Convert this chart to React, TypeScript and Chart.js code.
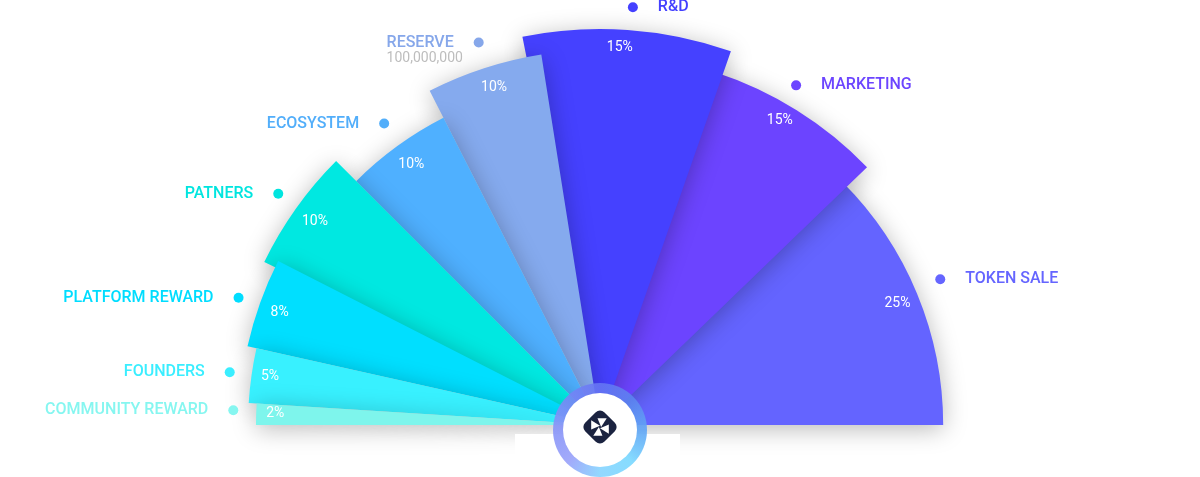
import React, { useEffect, useRef } from "react";
import { Chart, registerables } from "chart.js";

Chart.register(...registerables);

const categories = [
  "COMMUNITY REWARD",
  "FOUNDERS",
  "PLATFORM REWARD",
  "PATNERS",
  "ECOSYSTEM",
  "RESERVE",
  "R&D",
  "MARKETING",
  "TOKEN SALE",
];
const shares = [2, 5, 8, 10, 10, 10, 15, 15, 25];
const subLabels = ["", "", "", "", "", "100,000,000", "", "", ""];

// style: relative reach of each slice (fraction of the chart radius)
const sliceReach = [0.86, 0.88, 0.903, 0.933, 0.862, 0.938, 0.99, 0.928, 0.858];
// style: how far each slice tucks under its neighbours (degrees)
const tuckStartDeg = [0, 0, 0, 1.1, 0, 0, 2.3, 0, 0];
const tuckEndDeg = [0, 0, 0, 0, 0, 0, 1.3, 1.0, 0];
// style: label placement tweaks
const labelAngleNudgeDeg = [-0.5, 0, 0.4, 0.3, -0.4, -0.4, 0, 1.5, 0.7];
const dotGap = [23, 22, 22, 23, 26, 26, 23, 21, 27];
const pctAngleNudgeDeg = [-0.3, -0.2, 0.4, 0.5, -0.1, -0.6, 1.5, 0.9, -0.3];
const pctInset = [19, 18.5, 21.5, 23, 23, 21, 17.5, 18, 22];

const sliceColors = [
  "#7EF5EC",
  "#38F1FF",
  "#00DFFF",
  "#00E8E1",
  "#4FB0FF",
  "#85AAEE",
  "#4541FF",
  "#6C44FF",
  "#6464FF",
];
const labelColors = [
  "#86F6F0",
  "#3AEEFF",
  "#00DDFF",
  "#00E5DF",
  "#52AEFA",
  "#86A7EA",
  "#4440FF",
  "#6C45FF",
  "#6565FF",
];

const FONT = "Roboto, 'Noto Sans', sans-serif";
const DEG = Math.PI / 180;

const fanPlugin = {
  id: "fanPlugin",
  afterDatasetUpdate(chart: any, args: any) {
    const meta = chart.getDatasetMeta(args.index);
    const base = (meta.controller as any).outerRadius;
    meta.data.forEach((arc: any, i: number) => {
      arc.$mid = (arc.startAngle + arc.endAngle) / 2;
      arc.outerRadius = base * sliceReach[i];
      arc.innerRadius = 0;
      arc.startAngle -= tuckStartDeg[i] * DEG;
      arc.endAngle += tuckEndDeg[i] * DEG;
      arc.circumference = arc.endAngle - arc.startAngle;
    });
  },
  beforeDatasetDraw(chart: any, args: any) {
    const meta = chart.getDatasetMeta(args.index);
    const ctx = chart.ctx;
    for (let i = meta.data.length - 1; i >= 0; i--) {
      ctx.save();
      ctx.shadowColor = "rgba(0,0,0,0.28)";
      ctx.shadowBlur = 24;
      ctx.shadowOffsetX = 0;
      ctx.shadowOffsetY = 4;
      meta.data[i].draw(ctx);
      ctx.restore();
    }
    return false;
  },
  afterDatasetsDraw(chart: any) {
    const meta = chart.getDatasetMeta(0);
    const ctx = chart.ctx as CanvasRenderingContext2D;
    const arcs = meta.data as any[];
    if (!arcs.length) return;
    const cx = arcs[0].x;
    const cy = arcs[0].y;

    arcs.forEach((arc, i) => {
      const mid = arc.$mid;
      const r = arc.outerRadius;
      const pa = mid - pctAngleNudgeDeg[i] * DEG;
      const px = cx + Math.cos(pa) * (r - pctInset[i]);
      const py = cy + Math.sin(pa) * (r - pctInset[i]);
      ctx.save();
      ctx.fillStyle = "#FFFFFF";
      ctx.font = `14px ${FONT}`;
      ctx.textAlign = "center";
      ctx.textBaseline = "middle";
      ctx.fillText(shares[i] + "%", px, py);

      const la = mid - labelAngleNudgeDeg[i] * DEG;
      const dx = cx + Math.cos(la) * (r + dotGap[i]);
      const dy = cy + Math.sin(la) * (r + dotGap[i]);
      ctx.beginPath();
      ctx.arc(dx, dy, 5, 0, Math.PI * 2);
      ctx.fillStyle = labelColors[i];
      ctx.fill();

      const right = Math.cos(la) > 0;
      ctx.font = `500 16px ${FONT}`;
      const w = ctx.measureText(categories[i]).width;
      ctx.textAlign = right ? "left" : "right";
      ctx.fillStyle = labelColors[i];
      const tx = right ? dx + 25 : dx - 25;
      ctx.fillText(categories[i], tx, dy);
      if (subLabels[i]) {
        ctx.font = `14px ${FONT}`;
        ctx.fillStyle = "#BDBDBD";
        ctx.textAlign = "left";
        const startX = right ? tx : tx - w;
        ctx.fillText(subLabels[i], startX, dy + 16);
      }
      ctx.restore();
    });

    // white strip under the center
    ctx.save();
    ctx.fillStyle = "#FFFFFF";
    ctx.fillRect(cx - 85, cy + 9, 165, chart.height - cy);
    ctx.restore();

    // center ring
    const rx = cx;
    const ry = cy + 5;
    ctx.save();
    let grad: any;
    if ((ctx as any).createConicGradient) {
      grad = (ctx as any).createConicGradient(0, rx, ry);
      grad.addColorStop(0, "rgba(98,166,245,0.92)");
      grad.addColorStop(0.125, "#86DCFF");
      grad.addColorStop(0.25, "#92D8FF");
      grad.addColorStop(0.375, "#A2AAFA");
      grad.addColorStop(0.5, "rgba(138,150,248,0.92)");
      grad.addColorStop(0.75, "rgba(102,118,244,0.88)");
      grad.addColorStop(0.875, "rgba(92,132,240,0.88)");
      grad.addColorStop(1, "rgba(98,166,245,0.92)");
    } else {
      grad = ctx.createLinearGradient(rx, ry - 47, rx, ry + 47);
      grad.addColorStop(0, "#6676F4");
      grad.addColorStop(1, "#92D8FF");
    }
    ctx.beginPath();
    ctx.arc(rx, ry, 47, 0, Math.PI * 2);
    ctx.fillStyle = grad;
    ctx.fill();
    ctx.beginPath();
    ctx.arc(rx, ry, 37, 0, Math.PI * 2);
    ctx.fillStyle = "#FFFFFF";
    ctx.fill();

    // logo
    const lx = cx;
    const ly = cy + 2;
    ctx.translate(lx, ly);
    ctx.save();
    ctx.rotate(Math.PI / 4);
    ctx.beginPath();
    (ctx as any).roundRect(-13.5, -13.5, 27, 27, 6);
    ctx.fillStyle = "#1B2340";
    ctx.fill();
    ctx.restore();
    ctx.fillStyle = "#FFFFFF";
    for (let k = 0; k < 4; k++) {
      ctx.save();
      ctx.rotate(-Math.PI / 4 + (k * Math.PI) / 2);
      ctx.beginPath();
      ctx.moveTo(0.8, -0.8);
      ctx.lineTo(-1.5, -11);
      ctx.lineTo(-8, -4.5);
      ctx.closePath();
      ctx.fill();
      ctx.restore();
    }
    ctx.restore();
  },
};

export default function App() {
  const canvasRef = useRef<HTMLCanvasElement | null>(null);

  useEffect(() => {
    document.body.style.margin = "0";
    const canvas = canvasRef.current;
    if (!canvas) return;
    const chart = new Chart(canvas, {
      type: "doughnut",
      data: {
        labels: categories,
        datasets: [
          {
            data: shares,
            backgroundColor: sliceColors,
            borderWidth: 0,
            hoverOffset: 0,
          },
        ],
      },
      options: {
        responsive: false,
        animation: false,
        events: [],
        rotation: -90,
        circumference: 180,
        cutout: 0,
        layout: { padding: { left: 200, right: 200, top: 25, bottom: 52 } },
        plugins: {
          legend: { display: false },
          tooltip: { enabled: false },
        },
      } as any,
      plugins: [fanPlugin as any],
    });
    return () => chart.destroy();
  }, []);

  return (
    <div style={{ width: 1200, height: 477, background: "#FFFFFF" }}>
      <canvas ref={canvasRef} width={1200} height={477} style={{ display: "block" }} />
    </div>
  );
}
